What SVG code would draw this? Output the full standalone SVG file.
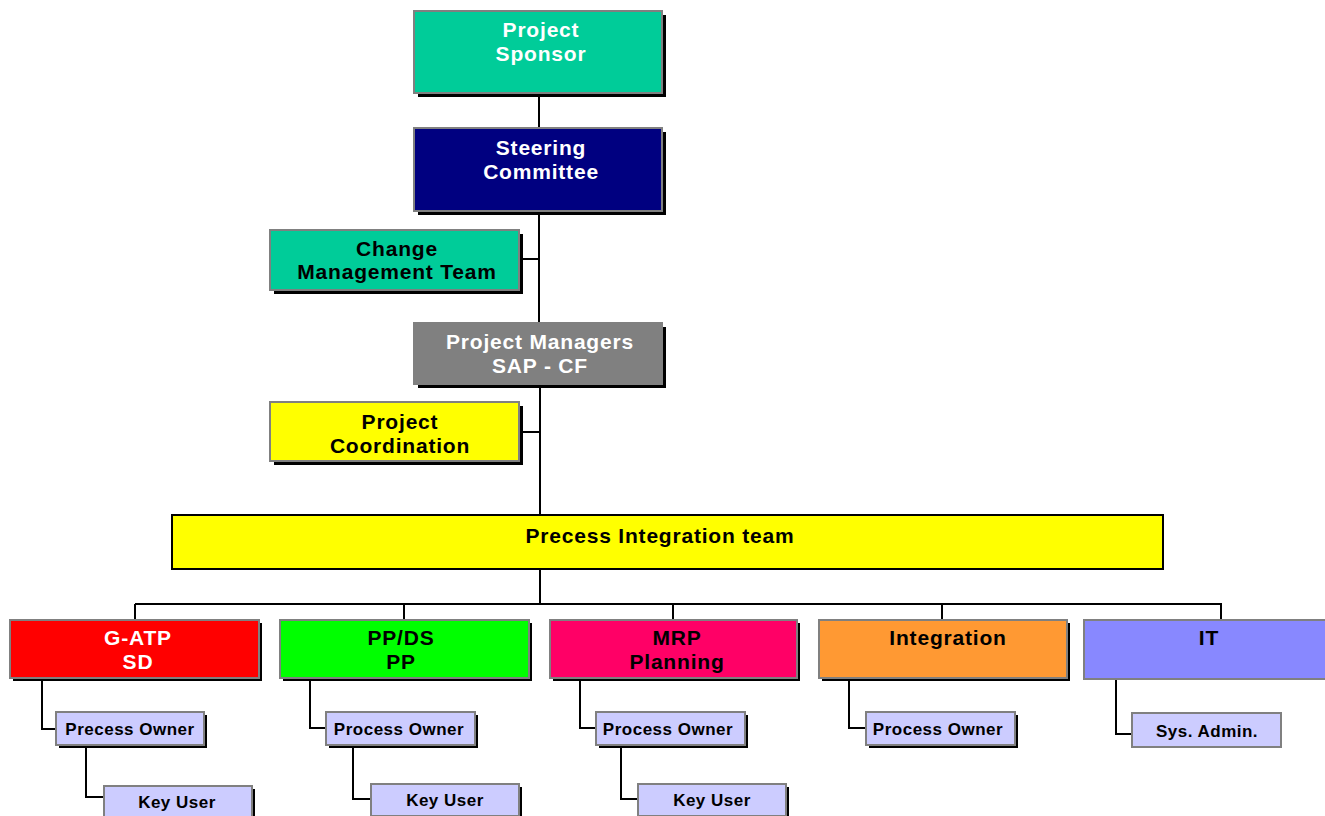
<svg xmlns="http://www.w3.org/2000/svg" width="1325" height="816" viewBox="0 0 1325 816">
<defs>
<style>
.box{stroke:#808080;stroke-width:2}
.sh{fill:#000}
.t{font-family:"Liberation Sans",Arial,sans-serif;font-weight:bold;font-size:21px;letter-spacing:0.8px;text-anchor:middle}
.s{font-family:"Liberation Sans",Arial,sans-serif;font-weight:bold;font-size:17px;letter-spacing:0.5px;text-anchor:middle;fill:#000}
.w{fill:#fff}
.k{fill:#000}
.c{fill:none;stroke:#000;stroke-width:2}
</style>
</defs>
<rect width="1325" height="816" fill="#fff"/>
<g id="connectors">
<path class="c" d="M539 93V128M539 211V323M519 259H539M540 384V515M519 432H540M540 569V604M135 604H1222M135 604V620M404 604V620M673 604V620M942 604V620M1221 604V620"/>
<path class="c" d="M42 678V729H56M86 745V797H104M310 678V728H326M353 745V799H371M580 678V728H596M621 745V799H638M849 678V728H866M1116 679V734H1132"/>
</g>
<g id="sponsor"><rect class="sh" x="418" y="15" width="248" height="82"/><rect class="box" x="414" y="11" width="248" height="82" fill="#00CC99"/><text class="t w" x="541" y="37">Project</text><text class="t w" x="541" y="61">Sponsor</text></g>
<g id="steering"><rect class="sh" x="418" y="132" width="248" height="83"/><rect class="box" x="414" y="128" width="248" height="83" fill="#000080"/><text class="t w" x="541" y="155">Steering</text><text class="t w" x="541" y="179">Committee</text></g>
<g id="change"><rect class="sh" x="274" y="234" width="249" height="60"/><rect class="box" x="270" y="230" width="249" height="60" fill="#00CC99"/><text class="t k" x="397" y="256">Change</text><text class="t k" x="397" y="279">Management Team</text></g>
<g id="pm"><rect class="sh" x="418" y="327" width="248" height="61"/><rect class="box" x="414" y="323" width="248" height="61" fill="#808080"/><text class="t w" x="540" y="349">Project Managers</text><text class="t w" x="540" y="373">SAP - CF</text></g>
<g id="coord"><rect class="sh" x="274" y="406" width="249" height="59"/><rect class="box" x="270" y="402" width="249" height="59" fill="#FFFF00"/><text class="t k" x="400" y="429">Project</text><text class="t k" x="400" y="453">Coordination</text></g>
<g id="pit"><rect x="172" y="515" width="991" height="54" fill="#FFFF00" stroke="#000" stroke-width="2"/><text class="t k" x="660" y="543">Precess Integration team</text></g>
<g id="gatp"><rect class="sh" x="13" y="623" width="249" height="58"/><rect class="box" x="10" y="620" width="249" height="58" fill="#FF0000"/><text class="t w" x="138" y="645">G-ATP</text><text class="t w" x="138" y="669">SD</text></g>
<g id="ppds"><rect class="sh" x="283" y="623" width="249" height="58"/><rect class="box" x="280" y="620" width="249" height="58" fill="#00FF00"/><text class="t k" x="401" y="645">PP/DS</text><text class="t k" x="401" y="669">PP</text></g>
<g id="mrp"><rect class="sh" x="553" y="623" width="247" height="58"/><rect class="box" x="550" y="620" width="247" height="58" fill="#FF0066"/><text class="t k" x="677" y="645">MRP</text><text class="t k" x="677" y="669">Planning</text></g>
<g id="integ"><rect class="sh" x="822" y="623" width="248" height="58"/><rect class="box" x="819" y="620" width="248" height="58" fill="#FF9933"/><text class="t k" x="948" y="645">Integration</text></g>
<g id="it"><rect class="box" x="1084" y="620" width="250" height="59" fill="#8888FF"/><text class="t k" x="1209" y="645">IT</text></g>
<g id="po1"><rect class="sh" x="59" y="715" width="148" height="33"/><rect class="box" x="56" y="712" width="148" height="33" fill="#CCCCFF"/><text class="s" x="130" y="735">Precess Owner</text></g>
<g id="ku1"><rect class="sh" x="107" y="789" width="148" height="32"/><rect class="box" x="104" y="786" width="148" height="32" fill="#CCCCFF"/><text class="s" x="177" y="808">Key User</text></g>
<g id="po2"><rect class="sh" x="329" y="715" width="149" height="33"/><rect class="box" x="326" y="712" width="149" height="33" fill="#CCCCFF"/><text class="s" x="399" y="735">Process Owner</text></g>
<g id="ku2"><rect class="sh" x="374" y="787" width="148" height="32"/><rect class="box" x="371" y="784" width="148" height="32" fill="#CCCCFF"/><text class="s" x="445" y="806">Key User</text></g>
<g id="po3"><rect class="sh" x="599" y="715" width="149" height="33"/><rect class="box" x="596" y="712" width="149" height="33" fill="#CCCCFF"/><text class="s" x="668" y="735">Process Owner</text></g>
<g id="ku3"><rect class="sh" x="641" y="787" width="148" height="32"/><rect class="box" x="638" y="784" width="148" height="32" fill="#CCCCFF"/><text class="s" x="712" y="806">Key User</text></g>
<g id="po4"><rect class="sh" x="869" y="715" width="149" height="33"/><rect class="box" x="866" y="712" width="149" height="33" fill="#CCCCFF"/><text class="s" x="938" y="735">Process Owner</text></g>
<g id="sysadmin"><rect class="box" x="1132" y="713" width="149" height="34" fill="#CCCCFF"/><text class="s" x="1207" y="737">Sys. Admin.</text></g>
</svg>
